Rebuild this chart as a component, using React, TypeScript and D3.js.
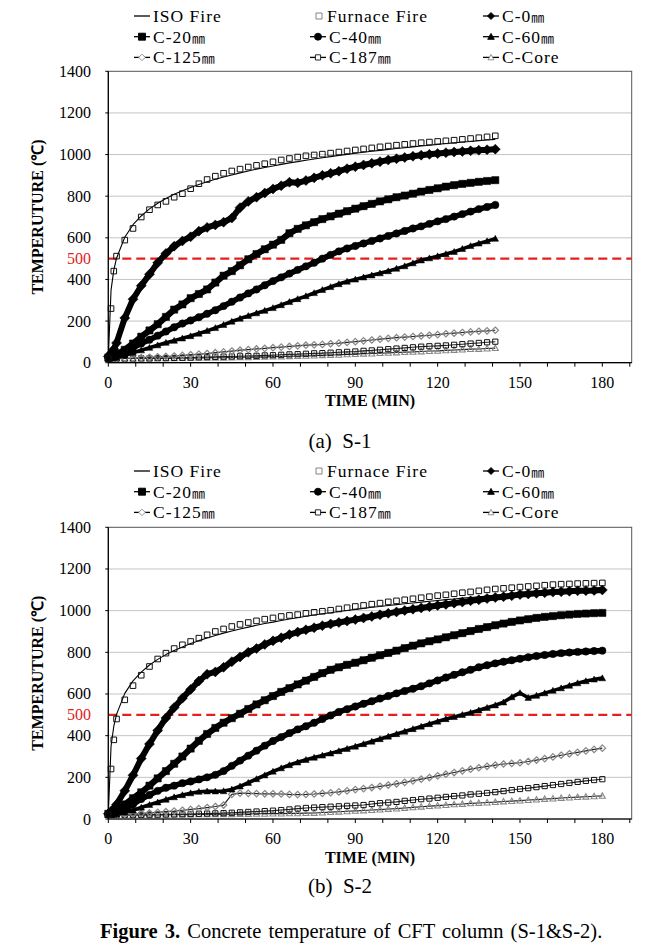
import React from 'react';
import * as d3 from 'd3';

// ---------- DATA ----------
const timesS1 = [0, 1, 2, 3, 6, 9, 12, 15, 18, 21, 24, 27, 30, 33, 36, 39, 42, 45, 48, 51, 54, 57, 60, 63, 66, 69, 72, 75, 78, 81, 84, 87, 90, 93, 96, 99, 102, 105, 108, 111, 114, 117, 120, 123, 126, 129, 132, 135, 138, 141];
const isoS1 = [20, 349, 445, 502, 603, 663, 705, 739, 766, 789, 809, 826, 842, 856, 869, 881, 892, 902, 912, 921, 930, 938, 945, 953, 960, 966, 973, 979, 985, 990, 996, 1001, 1006, 1011, 1016, 1020, 1025, 1029, 1033, 1037, 1041, 1045, 1049, 1053, 1056, 1060, 1063, 1067, 1070, 1073];
const furnaceS1 = [20, 260, 440, 512, 589, 645, 700, 735, 758, 775, 795, 812, 836, 860, 880, 896, 910, 921, 930, 940, 948, 956, 965, 974, 981, 988, 994, 998, 1002, 1007, 1012, 1017, 1022, 1027, 1032, 1037, 1041, 1045, 1049, 1053, 1057, 1060, 1063, 1066, 1069, 1073, 1077, 1081, 1085, 1090];
const c0S1 = [30, 45, 65, 95, 215, 305, 370, 425, 480, 525, 560, 585, 605, 632, 650, 662, 675, 695, 745, 775, 795, 815, 835, 850, 867, 864, 875, 888, 900, 910, 920, 932, 942, 950, 958, 966, 974, 980, 986, 992, 997, 1001, 1005, 1009, 1012, 1015, 1018, 1021, 1023, 1026];
const c20S1 = [25, 28, 33, 40, 62, 92, 125, 155, 185, 220, 255, 280, 310, 330, 352, 385, 418, 440, 468, 497, 522, 545, 567, 590, 622, 643, 660, 675, 690, 703, 716, 728, 740, 752, 763, 775, 785, 795, 803, 812, 822, 830, 838, 846, 853, 859, 864, 869, 873, 877];
const c40S1 = [25, 27, 30, 35, 52, 72, 92, 110, 130, 150, 170, 188, 203, 218, 235, 252, 272, 293, 313, 333, 352, 372, 392, 410, 428, 446, 463, 480, 500, 518, 535, 549, 561, 573, 585, 597, 609, 621, 633, 645, 655, 667, 679, 690, 702, 714, 726, 738, 748, 758];
const c60S1 = [20, 21, 23, 25, 35, 48, 60, 72, 84, 96, 106, 117, 128, 140, 153, 167, 182, 198, 212, 225, 238, 250, 263, 277, 292, 306, 320, 335, 350, 364, 378, 390, 400, 410, 420, 430, 440, 452, 464, 478, 492, 502, 512, 522, 533, 547, 561, 573, 584, 596];
const c125S1 = [20, 20, 20, 20, 21, 22, 24, 26, 28, 30, 32, 35, 38, 41, 44, 48, 52, 56, 60, 63, 66, 69, 72, 75, 78, 81, 84, 86, 88, 91, 94, 98, 101, 105, 109, 113, 117, 120, 123, 126, 129, 132, 135, 139, 142, 145, 148, 151, 153, 156];
const c187S1 = [20, 20, 20, 20, 20, 20, 21, 21, 22, 22, 23, 24, 25, 26, 27, 28, 29, 30, 31, 32, 33, 35, 36, 38, 40, 41, 43, 45, 46, 48, 50, 52, 54, 57, 59, 62, 65, 68, 71, 74, 77, 79, 81, 83, 86, 89, 92, 95, 98, 101];
const coreS1 = [20, 20, 20, 20, 20, 20, 20, 20, 21, 21, 21, 22, 22, 23, 23, 24, 24, 25, 26, 26, 27, 28, 29, 30, 31, 32, 33, 34, 36, 37, 38, 40, 41, 43, 44, 46, 47, 49, 51, 52, 54, 56, 57, 59, 61, 63, 65, 66, 68, 70];

const timesS2 = [0, 1, 2, 3, 6, 9, 12, 15, 18, 21, 24, 27, 30, 33, 36, 39, 42, 45, 48, 51, 54, 57, 60, 63, 66, 69, 72, 75, 78, 81, 84, 87, 90, 93, 96, 99, 102, 105, 108, 111, 114, 117, 120, 123, 126, 129, 132, 135, 138, 141, 144, 147, 150, 153, 156, 159, 162, 165, 168, 171, 174, 177, 180];
const isoS2 = [20, 349, 445, 502, 603, 663, 705, 739, 766, 789, 809, 826, 842, 856, 869, 881, 892, 902, 912, 921, 930, 938, 945, 953, 960, 966, 973, 979, 985, 990, 996, 1001, 1006, 1011, 1016, 1020, 1025, 1029, 1033, 1037, 1041, 1045, 1049, 1053, 1056, 1060, 1063, 1067, 1070, 1073, 1076, 1079, 1082, 1085, 1088, 1091, 1094, 1097, 1099, 1102, 1105, 1107, 1110];
const furnaceS2 = [20, 240, 380, 480, 572, 640, 690, 732, 768, 796, 818, 836, 852, 868, 884, 900, 912, 924, 934, 943, 951, 959, 965, 972, 977, 981, 987, 992, 997, 1002, 1008, 1014, 1020, 1025, 1031, 1036, 1042, 1047, 1052, 1057, 1062, 1067, 1072, 1076, 1081, 1086, 1090, 1095, 1100, 1104, 1107, 1110, 1113, 1116, 1119, 1122, 1125, 1127, 1128, 1130, 1131, 1132, 1133];
const c0S2 = [25, 35, 50, 70, 135, 210, 290, 360, 425, 485, 535, 580, 622, 662, 695, 706, 728, 755, 778, 800, 818, 838, 855, 870, 885, 897, 908, 918, 928, 936, 943, 950, 957, 965, 972, 980, 987, 994, 1001, 1007, 1013, 1019, 1025, 1030, 1036, 1041, 1047, 1052, 1058, 1063, 1067, 1072, 1077, 1080, 1083, 1086, 1089, 1091, 1093, 1095, 1096, 1097, 1099];
const c20S2 = [25, 28, 34, 42, 70, 100, 128, 160, 195, 230, 265, 300, 338, 375, 408, 437, 462, 484, 505, 528, 550, 570, 590, 610, 628, 646, 664, 682, 700, 716, 728, 740, 750, 762, 774, 786, 797, 808, 820, 832, 843, 853, 862, 872, 882, 892, 902, 912, 921, 930, 938, 946, 953, 959, 965, 970, 974, 978, 981, 984, 986, 988, 989];
const c40S2 = [22, 24, 26, 30, 45, 70, 96, 115, 135, 150, 160, 172, 180, 190, 200, 212, 230, 255, 280, 304, 328, 352, 374, 393, 412, 430, 445, 462, 480, 497, 514, 527, 540, 553, 565, 578, 590, 603, 614, 625, 637, 651, 665, 679, 692, 704, 716, 728, 738, 747, 755, 762, 769, 776, 782, 787, 792, 796, 799, 802, 804, 806, 808];
const c60S2 = [20, 20, 21, 24, 32, 42, 55, 68, 80, 93, 105, 115, 124, 131, 133, 133, 134, 142, 157, 174, 192, 210, 228, 244, 259, 272, 284, 295, 305, 315, 326, 337, 348, 360, 372, 384, 396, 408, 420, 432, 444, 456, 468, 480, 490, 500, 510, 522, 534, 546, 560, 585, 605, 582, 592, 604, 616, 628, 640, 652, 662, 670, 676];
const c125S2 = [20, 20, 20, 20, 22, 24, 26, 29, 32, 35, 38, 42, 46, 50, 55, 60, 67, 118, 124, 123, 122, 121, 121, 120, 118, 117, 118, 120, 123, 126, 130, 135, 141, 146, 151, 157, 163, 169, 176, 183, 191, 199, 207, 215, 223, 231, 239, 246, 253, 259, 264, 267, 270, 276, 283, 290, 298, 306, 313, 320, 327, 334, 340];
const c187S2 = [20, 20, 20, 20, 20, 20, 20, 21, 21, 22, 22, 23, 24, 25, 26, 27, 28, 30, 32, 34, 36, 38, 40, 43, 46, 50, 53, 55, 57, 59, 61, 63, 65, 67, 72, 76, 79, 82, 87, 91, 95, 98, 102, 106, 110, 113, 118, 121, 125, 129, 134, 139, 144, 148, 153, 158, 163, 168, 173, 178, 183, 187, 191];
const coreS2 = [20, 20, 20, 20, 20, 20, 20, 20, 20, 20, 21, 21, 21, 22, 22, 22, 23, 23, 24, 24, 25, 25, 26, 26, 27, 27, 28, 29, 31, 33, 35, 37, 39, 41, 43, 45, 48, 50, 53, 56, 59, 62, 64, 67, 70, 72, 75, 77, 79, 81, 84, 86, 88, 91, 93, 96, 98, 101, 103, 105, 107, 109, 111];

const seriesKeys = ['iso', 'furnace', 'c0', 'c20', 'c40', 'c60', 'c125', 'c187', 'core'];
const seriesLabels = ['ISO Fire', 'Furnace Fire', 'C-0', 'C-20', 'C-40', 'C-60', 'C-125', 'C-187', 'C-Core'];
const seriesUnits = ['', '', '㎜', '㎜', '㎜', '㎜', '㎜', '㎜', ''];
const yTicks = [0, 200, 400, 600, 800, 1000, 1200, 1400];
const gridValues = [200, 400, 600, 800, 1000, 1200];
const xLabelTicks = [0, 30, 60, 90, 120, 150, 180];
const xMinorTicks = [0, 10, 20, 30, 40, 50, 60, 70, 80, 90, 100, 110, 120, 130, 140, 150, 160, 170, 180, 190];
const limitTemp = 500;
const xMax = 190.7;

const dataS1 = [isoS1, furnaceS1, c0S1, c20S1, c40S1, c60S1, c125S1, c187S1, coreS1];
const dataS2 = [isoS2, furnaceS2, c0S2, c20S2, c40S2, c60S2, c125S2, c187S2, coreS2];

// ---------- STYLES ----------
type Style = {
  lineW: number; lineColor: string;
  shape: string | null; size: number; fill: string; stroke: string; sw: number;
};
const STYLE: Record<string, Style> = {
  iso: { lineW: 1.1, lineColor: '#000', shape: null, size: 0, fill: 'none', stroke: '#000', sw: 1 },
  furnace: { lineW: 0, lineColor: '#000', shape: 'square', size: 5.6, fill: 'none', stroke: '#111', sw: 1 },
  c0: { lineW: 6, lineColor: '#000', shape: 'diamond', size: 10, fill: '#000', stroke: '#000', sw: 0.5 },
  c20: { lineW: 6.2, lineColor: '#000', shape: 'square', size: 7.2, fill: '#000', stroke: '#000', sw: 0.5 },
  c40: { lineW: 5.6, lineColor: '#000', shape: 'circle', size: 7.4, fill: '#000', stroke: '#000', sw: 0.5 },
  c60: { lineW: 3.6, lineColor: '#000', shape: 'triangle', size: 6.6, fill: '#000', stroke: '#000', sw: 0.5 },
  c125: { lineW: 1.2, lineColor: '#222', shape: 'diamond', size: 6.5, fill: 'none', stroke: '#888', sw: 1.2 },
  c187: { lineW: 1.1, lineColor: '#222', shape: 'square', size: 5.2, fill: 'none', stroke: '#111', sw: 1 },
  core: { lineW: 1.1, lineColor: '#222', shape: 'triangle', size: 6, fill: 'none', stroke: '#888', sw: 1.1 },
};
const drawOrder = ['core', 'c187', 'c125', 'c60', 'c40', 'c20', 'c0', 'iso', 'furnace'];

function shapePath(shape: string, size: number): string {
  const h = size / 2;
  if (shape === 'square') return `M${-h},${-h}h${size}v${size}h${-size}Z`;
  if (shape === 'diamond') return `M0,${-h}L${h},0L0,${h}L${-h},0Z`;
  if (shape === 'triangle') return `M0,${-h}L${h},${h * 0.8}L${-h},${h * 0.8}Z`;
  return d3.symbol(d3.symbolCircle, Math.PI * h * h)() || '';
}

const SERIF = 'Liberation Serif, Times New Roman, serif';
const X0 = 108.3;
const X1 = 631.7;
const RED = '#e3201b';

function Legend({ top }: { top: number }) {
  const colX = [134, 310, 483];
  const rowGap = 20.7;
  return (
    <g fontFamily={SERIF} fontSize={17.5} letterSpacing={1}>
      {seriesKeys.map((k, i) => {
        const row = Math.floor(i / 3);
        const col = i % 3;
        const st = STYLE[k];
        const y = top + row * rowGap;
        let x0 = colX[col];
        let lineLen = 16;
        let textX = x0 + 19;
        if (k === 'iso') { x0 = 134; textX = 153; }
        if (k === 'furnace') { x0 = 313; lineLen = 0; textX = 327; }
        const mx = k === 'furnace' ? 319 : x0 + lineLen / 2;
        return (
          <g key={k}>
            {lineLen > 0 && (
              <line x1={x0} x2={x0 + lineLen} y1={y} y2={y} stroke="#000" strokeWidth={1.3} />
            )}
            {st.shape && (
              <path
                d={shapePath(st.shape, k === 'furnace' ? 6 : Math.min(st.size, 7))}
                transform={`translate(${mx},${y})`}
                fill={st.fill === 'none' ? '#fff' : st.fill}
                stroke={k === 'furnace' ? '#777' : st.stroke}
                strokeWidth={0.9}
              />
            )}
            <text x={textX} y={y} dominantBaseline="central" fill="#000">
              {seriesLabels[i]}
              {seriesUnits[i] && (
                <tspan fontSize={13} letterSpacing={0} fontFamily="Noto Sans CJK JP, sans-serif" fill="#000">{seriesUnits[i]}</tspan>
              )}
            </text>
          </g>
        );
      })}
    </g>
  );
}

function Chart({ times, data, yTop, yBot, legendTop, caption, captionY }: {
  times: number[]; data: number[][]; yTop: number; yBot: number;
  legendTop: number; caption: string; captionY: number;
}) {
  const x = d3.scaleLinear().domain([0, xMax]).range([X0, X1]);
  const y = d3.scaleLinear().domain([0, 1400]).range([yBot, yTop]);
  const line = d3.line<number>().x((_, i) => x(times[i])).y((v) => y(v));
  const yMid = (yTop + yBot) / 2;
  const xMid = (X0 + X1) / 2;
  return (
    <g>
      <Legend top={legendTop} />
      {gridValues.map((v) => (
        <line key={v} x1={X0} x2={X1} y1={y(v)} y2={y(v)} stroke="#c4c4c4" strokeWidth={1} />
      ))}
      <rect x={X0} y={yTop} width={X1 - X0} height={yBot - yTop} fill="none" stroke="#555" strokeWidth={1} />
      <line x1={X0} x2={X1} y1={y(limitTemp)} y2={y(limitTemp)} stroke={RED} strokeWidth={2.2} strokeDasharray="9,5" />
      {drawOrder.map((k) => {
        const idx = seriesKeys.indexOf(k);
        const vals = data[idx];
        const st = STYLE[k];
        return (
          <g key={k}>
            {st.lineW > 0 && (
              <path d={line(vals) || ''} fill="none" stroke={st.lineColor} strokeWidth={st.lineW} strokeLinejoin="round" />
            )}
            {st.shape && vals.map((v, i) => (
              <path
                key={i}
                d={shapePath(st.shape as string, st.size)}
                transform={`translate(${x(times[i])},${y(v)})`}
                fill={st.fill}
                stroke={st.stroke}
                strokeWidth={st.sw}
              />
            ))}
          </g>
        );
      })}
      <line x1={X0} x2={X0} y1={yTop} y2={yBot} stroke="#000" strokeWidth={1.2} />
      <line x1={X0} x2={X1} y1={yBot} y2={yBot} stroke="#000" strokeWidth={1.2} />
      {yTicks.map((v) => (
        <g key={v}>
          <line x1={X0 - 3} x2={X0} y1={y(v)} y2={y(v)} stroke="#000" />
          <text x={91} y={y(v)} textAnchor="end" dominantBaseline="central" fontFamily={SERIF} fontSize={16} fill="#000">{v}</text>
        </g>
      ))}
      <text x={91} y={y(limitTemp)} textAnchor="end" dominantBaseline="central" fontFamily={SERIF} fontSize={16} fill={RED}>{limitTemp}</text>
      {xMinorTicks.map((t) => (
        <line key={t} x1={x(t)} x2={x(t)} y1={yBot} y2={yBot + 4} stroke="#000" />
      ))}
      {xLabelTicks.map((t) => (
        <text key={t} x={x(t)} y={yBot + 19.5} textAnchor="middle" dominantBaseline="central" fontFamily={SERIF} fontSize={16} fill="#000">{t}</text>
      ))}
      <text x={xMid} y={yBot + 38} textAnchor="middle" dominantBaseline="central" fontFamily={SERIF} fontSize={16} fontWeight="bold" fill="#000">TIME (MIN)</text>
      <text transform={`translate(37,${yMid}) rotate(-90)`} textAnchor="middle" dominantBaseline="central" fontFamily={SERIF} fontSize={16} fontWeight="bold" fill="#000">TEMPERUTURE (℃)</text>
      <text x={340} y={captionY} textAnchor="middle" dominantBaseline="central" fontFamily={SERIF} fontSize={21} fill="#000" style={{ whiteSpace: 'pre' }}>{caption}</text>
    </g>
  );
}

export default function App() {
  return (
    <svg width={651} height={948} style={{ position: 'absolute', left: 0, top: 0, background: '#fff' }}>
      <rect x={0} y={0} width={651} height={948} fill="#fff" />
      <Chart times={timesS1} data={dataS1} yTop={71.3} yBot={362.7} legendTop={16} caption="(a)  S-1" captionY={441} />
      <Chart times={timesS2} data={dataS2} yTop={527.3} yBot={819} legendTop={471} caption="(b)  S-2" captionY={886} />
      <text x={100} y={931} dominantBaseline="central" fontFamily={SERIF} fontSize={20.5} fill="#000" wordSpacing={2}>
        <tspan fontWeight="bold">Figure 3.</tspan>
        <tspan> Concrete temperature of CFT column (S-1&amp;S-2).</tspan>
      </text>
    </svg>
  );
}
